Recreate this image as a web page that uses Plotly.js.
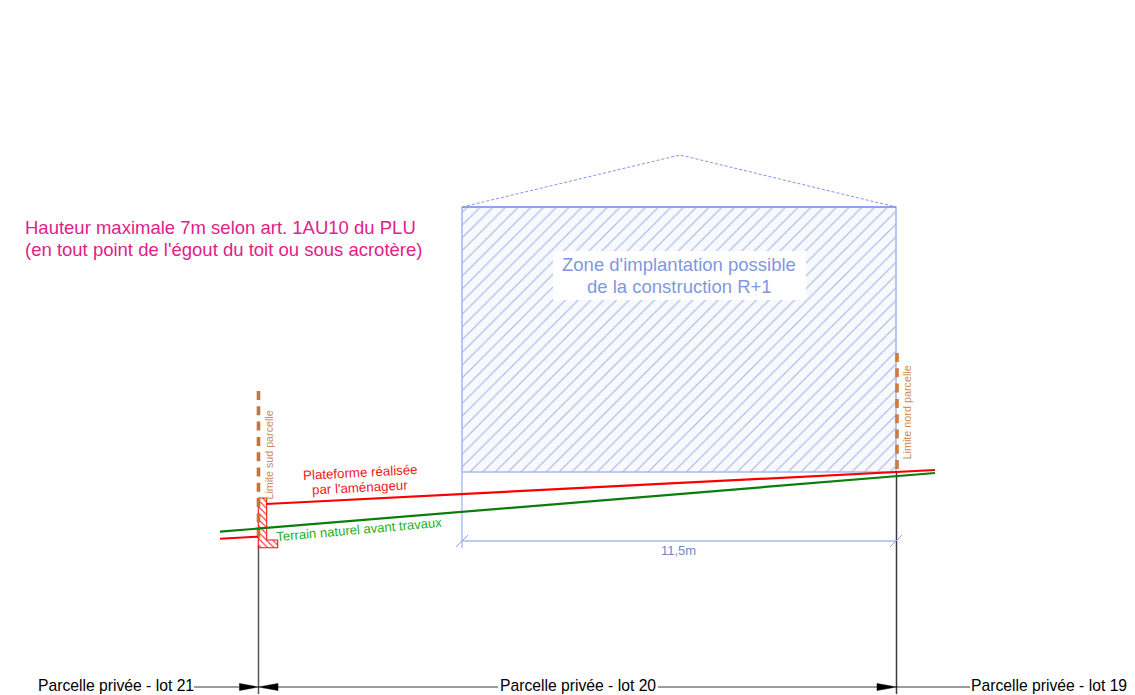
<!DOCTYPE html>
<html>
<head>
<meta charset="utf-8">
<script src="https://cdn.plot.ly/plotly-3.0.1.min.js"></script>
<style>html,body{margin:0;padding:0;background:#fff}#chart{width:1135px;height:695px}</style>
</head>
<body>
<div id="chart"></div>
<script>
// Drawing units follow the sheet (1 unit = 1 px of the reference).
var zoneX = [462, 896, 896, 462, 462];
var zoneY = [207, 207, 472, 472, 207];
var zoneLabelBoxX = [553, 806, 806, 553, 553];
var zoneLabelBoxY = [251, 251, 300, 300, 251];
var roofX = [462, 680, 896];
var roofY = [207, 155, 207];
var limitSudX = [258.5, 258.5];
var limitSudY = [391, 540];
var limitNordX = [897, 897];
var limitNordY = [353, 474];
var axisSudX = [258.5, 258.5];
var axisSudY = [545, 694];
var axisNordX = [896.5, 896.5];
var axisNordY = [473, 694];
var plateformeX = [266, 935];
var plateformeY = [504, 470];
var remblaiX = [220, 258];
var remblaiY = [538.7, 536.7];
var terrainX = [220, 935];
var terrainY = [531.7, 473];
var murX = [258.3, 266.7, 266.7, 277.7, 277.7, 258.3, 258.3];
var murY = [498, 498, 540, 540, 547.7, 547.7, 498];
var coteX = [462, 896];
var coteY = [541, 541];
var coteRappelX = [462, 462];
var coteRappelY = [472, 548];
var coteTickGX = [456, 468];
var coteTickGY = [547, 535];
var coteTickDX = [890, 902];
var coteTickDY = [547, 535];
var dim1X = [194, 239, null, 278, 498, null, 658, 877, null, 896, 970];
var dim1Y = [687, 687, null, 687, 687, null, 687, 687, null, 687, 687];
var fleche1X = [239.5, 258.5, 239.5, 239.5];
var fleche1Y = [683.5, 687, 690.5, 683.5];
var fleche2X = [278, 258.5, 278, 278];
var fleche2Y = [683.5, 687, 690.5, 683.5];
var fleche3X = [877, 896.5, 877, 877];
var fleche3Y = [683.5, 687, 690.5, 683.5];

var labels = [
  {t: "Hauteur maximale 7m selon art. 1AU10 du PLU", x: 23.5, y: 227, s: 18.5, c: "#e0218a", a: 0, anchor: "left"},
  {t: "(en tout point de l'égout du toit ou sous acrotère)", x: 23.5, y: 249, s: 18.5, c: "#e0218a", a: 0, anchor: "left"},
  {t: "Zone d'implantation possible", x: 679, y: 264.5, s: 18.5, c: "#7f97e0", a: 0, anchor: "center"},
  {t: "de la construction R+1", x: 679.5, y: 286.5, s: 18.5, c: "#7f97e0", a: 0, anchor: "center"},
  {t: "11,5m", x: 678, y: 550, s: 13, c: "#6f87d0", a: 0, anchor: "center"},
  {t: "Limite sud parcelle", x: 268, y: 455.5, s: 10.7, c: "#d08a55", a: -90, anchor: "center"},
  {t: "Limite nord parcelle", x: 906, y: 412.5, s: 10.8, c: "#d08a55", a: -90, anchor: "center"},
  {t: "Plateforme réalisée", x: 360, y: 472, s: 13.3, c: "#f01818", a: -3, anchor: "center"},
  {t: "par l'aménageur", x: 360, y: 487.5, s: 13.3, c: "#f01818", a: -3, anchor: "center"},
  {t: "Terrain naturel avant travaux", x: 359, y: 529, s: 13.1, c: "#25b025", a: -5, anchor: "center"},
  {t: "Parcelle privée - lot 21", x: 116, y: 685, s: 15.7, c: "#000000", a: 0, anchor: "center"},
  {t: "Parcelle privée - lot 20", x: 577.5, y: 685, s: 15.7, c: "#000000", a: 0, anchor: "center"},
  {t: "Parcelle privée - lot 19", x: 1048.5, y: 685, s: 15.7, c: "#000000", a: 0, anchor: "center"}
];

function line(x, y, color, width, dash) {
  return {x: x, y: y, type: "scatter", mode: "lines", hoverinfo: "skip", showlegend: false,
    line: {color: color, width: width, dash: dash || "solid"}};
}
function poly(x, y, fillcolor, lineColor, lineWidth, pattern) {
  var t = {x: x, y: y, type: "scatter", mode: "lines", fill: "toself", fillcolor: fillcolor,
    hoverinfo: "skip", showlegend: false, line: {color: lineColor, width: lineWidth}};
  if (pattern) t.fillpattern = pattern;
  return t;
}

var traces = [
  line(axisSudX, axisSudY, "#555555", 1.5),
  line(axisNordX, axisNordY, "#3a3a44", 1.5),
  poly(zoneX, zoneY, "#f7f9fd", "#a9b9ec", 1.6,
    {shape: "/", size: 9, solidity: 0.12, fgcolor: "#a3b5e8", bgcolor: "#f7f9fd", fillmode: "replace"}),
  poly(zoneLabelBoxX, zoneLabelBoxY, "#ffffff", "#ffffff", 0),
  line([462, 896], [207, 207], "#7f9ae6", 1.3),
  line(roofX, roofY, "#7f97e0", 1, "3px 2px"),
  line(coteX, coteY, "#a9b9ec", 1.3),
  line(coteRappelX, coteRappelY, "#b4c3ee", 1.6),
  line(coteTickGX, coteTickGY, "#8ea4e4", 1),
  line(coteTickDX, coteTickDY, "#8ea4e4", 1),
  line(dim1X, dim1Y, "#222222", 0.9),
  poly(fleche1X, fleche1Y, "#000000", "#000000", 0.5),
  poly(fleche2X, fleche2Y, "#000000", "#000000", 0.5),
  poly(fleche3X, fleche3Y, "#000000", "#000000", 0.5),
  poly(murX, murY, "#ffffff", "#f01818", 1.1,
    {shape: "\\", size: 4.5, solidity: 0.24, fgcolor: "#f01818", bgcolor: "#ffffff", fillmode: "replace"}),
  line(limitSudX, limitSudY, "#c8733a", 3.6, "9px 6.3px"),
  line(limitNordX, limitNordY, "#d07a3c", 3.6, "9px 6.3px"),
  line(remblaiX, remblaiY, "#f80000", 2),
  line(plateformeX, plateformeY, "#f80000", 2.2),
  line(terrainX, terrainY, "#0a7d0a", 2.2)
];

var annotations = labels.map(function (l) {
  return {text: l.t, x: l.x, y: l.y, xref: "x", yref: "y", showarrow: false, xanchor: l.anchor, yanchor: "middle",
    textangle: l.a, align: "center", font: {family: "Liberation Sans, Arial, sans-serif", size: l.s, color: l.c}, borderpad: 0};
});

Plotly.newPlot("chart", traces, {
  width: 1135, height: 695,
  margin: {l: 0, r: 0, t: 0, b: 0, pad: 0},
  paper_bgcolor: "#ffffff", plot_bgcolor: "#ffffff",
  showlegend: false,
  xaxis: {range: [0, 1135], visible: false, fixedrange: true},
  yaxis: {range: [695, 0], visible: false, fixedrange: true},
  annotations: annotations
}, {staticPlot: true, displayModeBar: false});
</script>
</body>
</html>
